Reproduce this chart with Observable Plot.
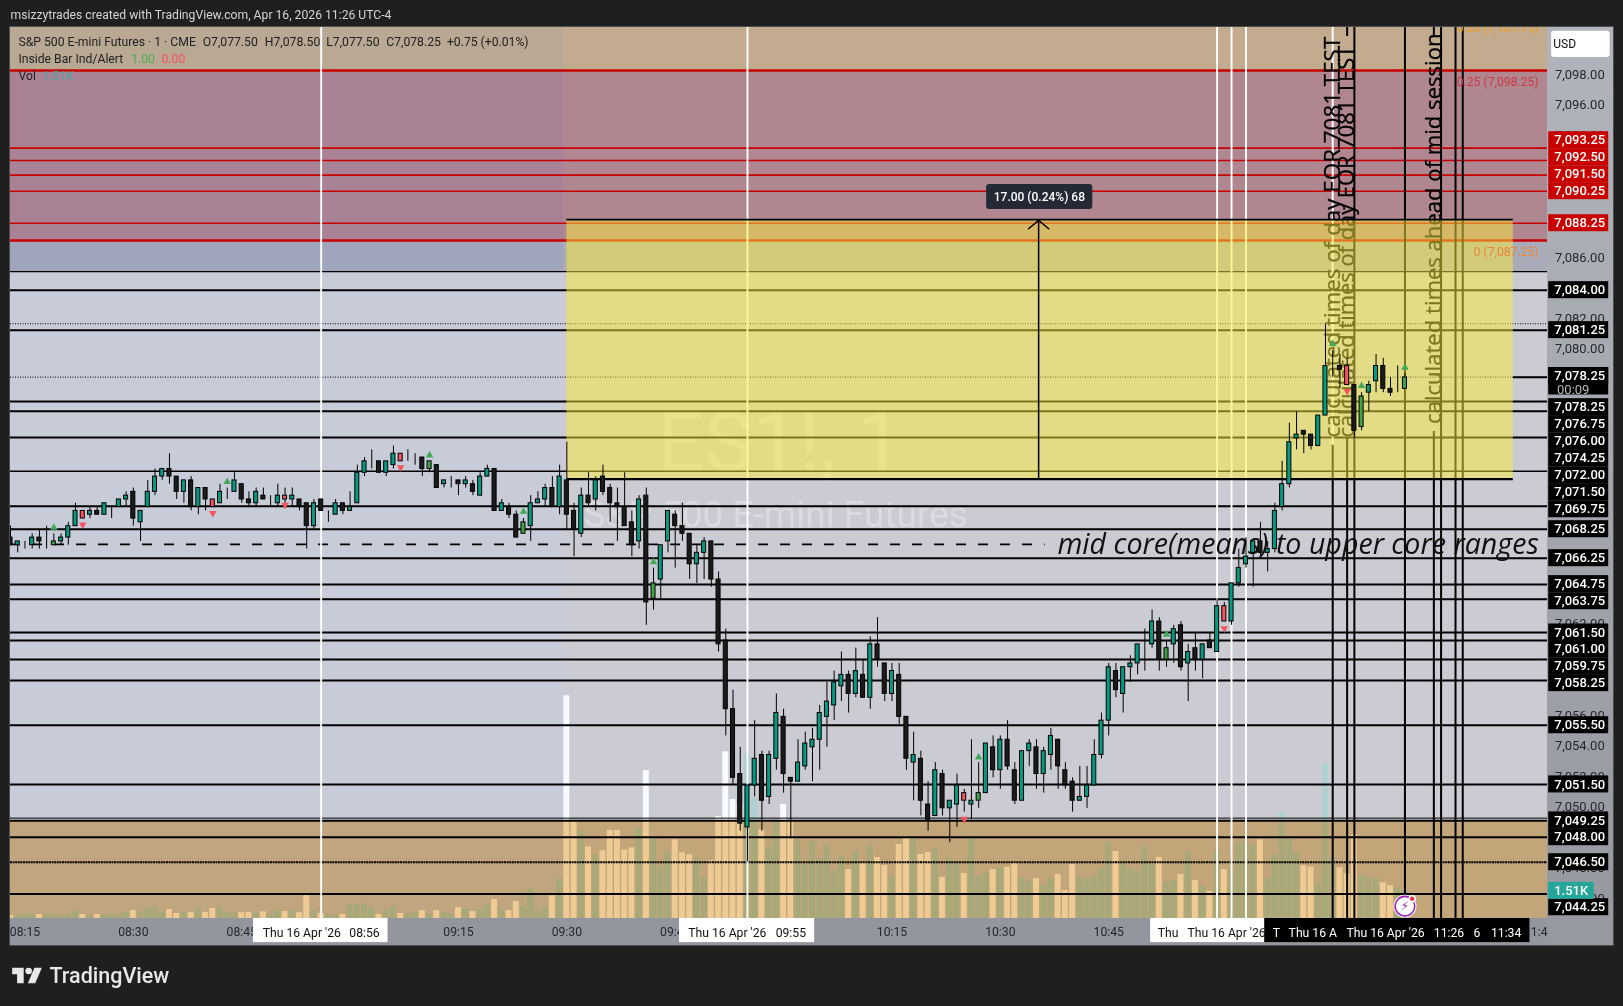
<!DOCTYPE html>
<html><head><meta charset="utf-8">
<script src="https://cdn.jsdelivr.net/npm/d3@7"></script>
<script src="https://cdn.jsdelivr.net/npm/@observablehq/plot@0.6"></script>
<style>
html,body{margin:0;padding:0;background:#1f1f1f;width:1623px;height:1006px;overflow:hidden}
#wrap{position:relative;width:1623px;height:1006px}
#ax{position:absolute;left:1547px;top:27px;width:66px;height:918px;background:linear-gradient(#b2b4bc,#95989f)}
#bt{position:absolute;left:10px;top:918px;width:1537px;height:27px;background:#93969f}
#fr{position:absolute;left:9px;top:26px;width:1603px;height:918px;border:1px solid #4c4c4c}
#logo{position:absolute;left:12px;top:966px}
#chart{position:absolute;left:0;top:0}
</style></head><body>
<div id="wrap"><div id="ax"></div><div id="bt"></div><div id="chart"></div><div id="fr"></div>
<svg id="logo" width="30" height="19" viewBox="0 0 36 23" fill="#e8e8e8"><path d="M14 2H0v8h6v11h8z"/><circle cx="20" cy="6" r="4"/><path d="M28 21h-9l8-19h9z"/></svg></div>
<script>
const firstMinute = -77; // minutes from 09:30
const opens = [7067.75,7067.25,7067.25,7067.25,7067.75,7067.25,7067.25,7067.5,7067.75,7068.5,7069.5,7069.25,7069.5,7069.25,7069.75,7069.75,7070.25,7070.75,7068.75,7069.75,7070.75,7071.75,7072.25,7071.75,7070.75,7071.5,7069.75,7071,7070.25,7070,7070.75,7070.75,7071.25,7070.25,7070,7070.5,7070,7070,7070.5,7070.25,7070.25,7070,7068.5,7070.25,7069.5,7069.25,7070,7069.5,7070,7072,7072.75,7072.75,7072,7072.5,7073.25,7073,7072.75,7073,7072.25,7072.5,7071.25,7071.5,7071.5,7071.25,7071.25,7070.5,7071.75,7072.25,7069.5,7069.75,7069.25,7068,7068.5,7070,7070.25,7071,7069.75,
7071.5,7069.5,7068,7070.5,7070.25,7071.75,7071,7070,7069.75,7068.75,7067.5,7070.5,7063.75,7065,7067.5,7069.25,7068.5,7068,7066,7066.75,7067.5,7065,7061,7056.5,7052.25,7048.75,7051.5,7053.5,7050.75,7053.25,7056,7052,7051.75,7052.75,7054,7054.5,7056,7056.75,7058,7058.75,7057.5,7058.75,7057.25,7060.75,7059.5,7057.5,7058.75,7056,7053,7053.25,7050.25,7049.5,7052.25,7050,7050.25,7051,7050.25,7050.5,7051,7054,7052.5,7054.5,7052.5,7050.5,7053.75,7054,7052.25,7053.5,7054.5,7052.5,7051.75,7050.5,7050.75,7051.5,7053.5,7055.75,7059,7057.5,7059.25,7059.5,7060.75,7060.75,7062.25,7059.75,7060.75,7062,7059.5,7060.5,7059.75,7061,7060.25,7063.25,7062.25,7064.75,7066,7066.75,7067.5,7066.75,7067,7069.75,7071.25,7074.25,7074.75,7074.5,7073.75,7075.75,7079,7079,7079,7077.75,7075,7077.25,7078,7079,7077.5,7077.5,7077.5];
const highs = [7068.5,7067.5,7067.5,7068,7068.25,7068.5,7068,7068,7068.75,7070,7069.5,7069.75,7069.75,7070,7069.75,7070.25,7070.75,7071,7069.5,7071.5,7072.25,7072.25,7073.25,7071.75,7071.5,7071.75,7071,7071,7070.25,7071.25,7071,7072,7071.25,7070.75,7071,7071,7070.5,7071.25,7071,7071,7070.25,7070,7070.25,7070.25,7069.5,7070.25,7070,7070.75,7072.5,7073,7073.5,7072.75,7072.75,7073.75,7073.25,7073.5,7073.25,7073,7072.75,7072.5,7071.5,7071.75,7071.5,7071.75,7071.5,7072,7072.5,7072.25,7070.25,7070,7069.5,7069,7070.5,7070.75,7071.25,7071.75,7072.5,
7074,7070,7071,7072,7071.75,7072.5,7071.25,7071,7072,7069.5,7070.5,7071,7065.75,7067.25,7069.5,7069.5,7070,7068,7067.25,7067.75,7067.5,7065.5,7061.75,7057.75,7054,7051.5,7055.75,7053.75,7053.75,7057.5,7056.5,7052,7054.5,7055,7055.25,7056.75,7058.25,7059,7060.25,7059,7060.5,7059.75,7061.25,7062.5,7059.5,7059.5,7059.5,7056,7055,7053.75,7051.75,7053,7052.5,7050.5,7052.25,7051.25,7054.5,7053,7054.25,7054.75,7054.75,7055.75,7053,7053.75,7054.5,7054.5,7054,7055.25,7054.5,7053,7052,7052.75,7052.75,7054.5,7056.25,7059.5,7059.5,7059.25,7060,7060.75,7061.75,7063,7062.5,7061,7062,7062.25,7060.75,7061.5,7060.75,7061.5,7063.75,7063.5,7064.75,7067,7067.75,7067.5,7068.75,7067.5,7070,7072.75,7075.25,7076,7074.75,7074.5,7075.75,7081.75,7080,7079.75,7079.5,7077.75,7077.25,7078,7079.75,7079.5,7078.25,7079,7078.5];
const lows = [7067.25,7066.75,7067,7067,7067,7067,7067.25,7067.25,7067.25,7068.5,7069,7069,7069.25,7069.25,7069,7069.75,7069.75,7068.5,7067.5,7069.75,7070.5,7071.5,7071.25,7070.25,7070,7069.5,7069.25,7069.5,7069.75,7070,7070.25,7070.75,7070,7069.75,7069.75,7070.25,7069.75,7069.75,7069.75,7069.75,7069.5,7067,7068.25,7069.5,7068.75,7069.25,7069.25,7069.5,7070,7071.75,7072.25,7072,7071.75,7072.25,7072.75,7072.75,7072.5,7071.75,7072,7071,7071,7071,7070.5,7071,7070.5,7070.5,7071.75,7069.5,7069.5,7069,7067.75,7068,7067.5,7070,7069.75,7069.75,7069.25,
7068.25,7066.5,7067.75,7069.75,7069.5,7070.5,7068.75,7067.5,7068.5,7066.5,7067,7062,7063,7063.75,7066.75,7065.75,7067.5,7065,7064.75,7065,7064.5,7060.25,7054.75,7051.5,7048.5,7046.5,7050.75,7048.5,7050.25,7052.5,7051,7048,7051.75,7052.5,7051.75,7052.5,7054,7055.75,7057,7056.25,7057.25,7057.25,7056.5,7059.25,7057,7057,7055.5,7052.5,7050.5,7049.5,7048.5,7049.5,7049.5,7047.75,7048.75,7049.75,7049.25,7050,7051,7052,7051.25,7052.5,7050.25,7050.5,7052.75,7051.25,7051,7052.5,7051.25,7051.25,7049.75,7050.5,7050,7051.5,7053.25,7054.75,7057.25,7056.25,7058.25,7058.75,7059,7060.5,7059,7059.25,7059.5,7059,7057,7059,7058.5,7060.5,7060.25,7062.25,7062,7064.5,7065.75,7064.5,7066.5,7065.5,7066.75,7069.5,7071,7073.5,7073.25,7073.5,7073.75,7075.75,7078.25,7077.5,7077.75,7074.25,7074.75,7076,7077.25,7077.25,7077,7077.25,7077.5];
const closes = [7067.25,7067.5,7067.25,7067.75,7067.5,7067.25,7067.5,7067.75,7068.5,7069.5,7069,7069.5,7069.25,7070,7069.75,7070.25,7070.5,7069,7069.5,7070.75,7071.75,7072.25,7071.75,7070.75,7071.5,7069.75,7071,7070.25,7069.75,7070.75,7070.75,7071.5,7070.25,7070,7070.75,7070.25,7070,7070.5,7070.25,7070.5,7069.75,7068.5,7070,7069.5,7069.5,7070,7069.5,7069.75,7072,7072.75,7072.75,7072,7072.75,7073.25,7072.75,7073,7072.75,7072.25,7072.75,7071,7071.5,7071.5,7071.25,7071.5,7070.75,7071.75,7072.25,7069.5,7070,7069.25,7067.75,7068.75,7070,7070.25,7071,7069.75,7071.75,
7069.25,7068.25,7070.5,7070,7071.5,7070.75,7070,7069.75,7068.5,7067.25,7070.25,7063.5,7064.75,7067.25,7069.5,7068.5,7068,7066,7066.75,7067.5,7065,7060.75,7056.5,7052,7049,7051.5,7053.25,7050.5,7053.5,7056.25,7052.25,7051.75,7053,7054.25,7054.5,7056.25,7057,7058.25,7058.75,7057.5,7059,7057.25,7060.75,7059.75,7057.5,7059,7056,7053.25,7053.5,7050.5,7049.25,7052.5,7050,7050.5,7051.5,7050.5,7050.5,7051,7054.25,7052.5,7054.5,7052.75,7050.5,7053.75,7054.25,7052.25,7053.75,7054.75,7052.75,7051.5,7050.5,7050.75,7051.5,7053.5,7055.75,7059.25,7057.75,7059.25,7059.5,7060.75,7060.75,7062.25,7059.75,7060.5,7061.75,7059.25,7060.25,7059.75,7060.75,7060.5,7063.25,7062.25,7064.75,7065.75,7066.5,7067.5,7066.75,7067,7069.5,7071.25,7074,7074.5,7074.5,7073.75,7075.75,7079,7079,7078.75,7077.75,7074.75,7077,7077.75,7079,7077.5,7077.25,7077.5,7078.25];
const volumesK = [.16,.18,.2,.25,.22,.25,.25,.16,.25,.42,.22,.18,.22,.2,.25,.22,.32,.43,.36,.54,.63,.32,.49,.27,.36,.32,.54,.32,.54,.59,.32,.32,.32,.32,.32,.36,.2,.42,.38,.47,.32,1.24,.42,.27,.2,.2,.22,.76,.76,.79,.59,.22,.43,.65,.27,.25,.32,.43,.25,.43,.32,.25,.59,.54,.38,.47,.76,1.03,.47,.43,.92,.65,1.62,.42,.63,1.23,2.11,
12.04,5.24,4.76,3.88,3.44,3.66,4.76,4.76,3.71,3.82,4.88,8,4.32,2.81,3.58,4.25,3.55,3.44,3.28,2.2,3.12,5.51,9.01,6.43,6.16,8.92,6.52,4.79,3.84,5.23,6.16,5.24,4.27,2.9,4.15,3.23,3.95,2.59,3.39,2.65,3.61,3.01,3.89,3.3,2.86,2.27,4,4.32,4.32,3.46,3.57,3.78,2.22,3.24,3.1,2.43,4.32,2.32,2.49,2.65,2.7,2.76,2.97,2.16,2,2.16,1.78,2.16,2.38,1.51,2.92,2.27,2.16,2.32,2.7,4.11,3.62,2.96,2.7,2.54,3.89,2.92,3.3,1.95,2.05,2.38,3.62,2.05,1.73,1.46,3.68,2.65,2.59,4.11,4.16,4,4.25,2.15,3.44,5.77,4.31,3.55,2.85,2.79,1.85,8.36,3.3,2.74,2.42,4.52,2.29,2.2,2.15,1.93,1.77,1.66,1.51];
const insideRed = [-67,-49,-39,-23,55,91,108];
const insideGreen = [-71,-19,-6,12,57,83,110,116];
const signalUpT = [-71,-47,-19,-6,12,57,83,106,110,116];
const signalUpP = [7068.4,7071.4,7073.15,7069.45,7066.15,7053.35,7061.4,7080.45,7077.7,7078.9];
const signalDownT = [-67,-49,-39,-23,55,91,108];
const signalDownP = [7068.6,7069.35,7069.9,7072.35,7049.3,7061.8,7077.35];

const redLevels = [7098.37,7093.28,7092.47,7091.51,7090.46,7088.36,7087.23];
const redWidths = [2.4,1.6,1.6,1.6,1.6,1.6,2.6];
const blackLevels = [7085.18,7083.97,7081.35,7076.67,7076.04,7074.31,7072.1,7069.81,7068.3,7066.4,7064.68,7063.71,7061.53,7061.01,7059.76,7058.38,7055.45,7051.57,7049.36,7049.19,7048.11,7044.38];
const blackWidths = [1.2,2,2,2,2,2,1.6,2,2,2,2,2,2,2,2,2,2,2,1,2,2,2];
const dottedLevels = [7081.77,7078.27];
const denseDottedLevel = 7046.47;
const midCoreLevel = 7067.3;
const boxTop = 7088.6, boxBottom = 7071.58, boxStart = 0, boxEnd = 131;
const whiteTimes = [-34,25,90,92,94];
const blackTimes = [109,116,121,123,124];
const labelledTimes = [106,108,120];
const labelledBreakLow = [7073.8,7074.3,7074.7];
const rotatedTexts = ["calculated times of day EOR 7081 TEST","calculated times of day EOR 7081 TEST","calculated times ahead of mid session"];
const rotatedBase = [7074.31,7074.31,7075.2];
const rotatedSizes = [22.4,21.9,22.1];

const tMin=-77,tMax=135.73,pMin=7042.78,pMax=7101.19;
const volPricePerK=1.2127;
const F="Roboto, 'Liberation Sans', sans-serif";
const bars=opens.map((o,i)=>{const t=firstMinute+i;const c=closes[i];
 const fill=insideRed.includes(t)?"#f7525f":insideGreen.includes(t)?"#43a047":c>o?"#089981":c<o?"#1b1b1b":"#089981";
 return {t,o,h:highs[i],l:lows[i],c,v:volumesK[i],fill,down:c<o};});

const bands=[
 {a:tMin,b:-.4,p1:7098.37,p2:pMax,f:"#b9a994"},{a:-.4,b:tMax,p1:7098.37,p2:pMax,f:"#c3ab90"},
 {a:tMin,b:-.4,p1:7087.23,p2:7098.37,f:"#a98295"},{a:-.4,b:tMax,p1:7087.23,p2:7098.37,f:"#b08791"},
 {a:tMin,b:-.4,p1:7085.18,p2:7087.23,f:"#a0a5bc"},{a:-.4,b:tMax,p1:7085.18,p2:7087.23,f:"#a9abb9"},
 {a:tMin,b:-.4,p1:pMin,p2:7085.18,f:"#c8ccd9"},{a:-.4,b:tMax,p1:pMin,p2:7085.18,f:"#cbccd3"}];

const axisTicks=[7098,7096,7094,7086,7082,7080,7062,7056,7054,7052,7050,7046,7044];
const redBoxes=[["7,093.25",7093.8],["7,092.50",7092.69],["7,091.50",7091.57],["7,090.25",7090.46],["7,088.25",7088.36]];
const blackBoxes=[["7,084.00",7083.97],["7,081.25",7081.35],["7,078.25",7078.33],["7,078.25",7076.3],["7,076.75",7075.19],["7,076.00",7074.07],["7,074.25",7072.96],["7,072.00",7071.84],["7,071.50",7070.73],["7,069.75",7069.61],["7,068.25",7068.3],["7,066.25",7066.4],["7,064.75",7064.7],["7,063.75",7063.58],["7,061.50",7061.53],["7,061.00",7060.44],["7,059.75",7059.32],["7,058.25",7058.21],["7,055.50",7055.45],["7,051.50",7051.57],["7,049.25",7049.21],["7,048.00",7048.11],["7,046.50",7046.47],["7,044.25",7043.52]];
const timeTicks=[["08:15",-75],["08:30",-60],["08:45",-45],["09:15",-15],["09:30",0],["09:45",15],["10:15",45],["10:30",60],["10:45",75]];
const timeBoxes=[{a:-43.37,b:-24.75,f:"#fff"},{a:15.6,b:34.3,f:"#fff"},{a:80.8,b:96.6,f:"#fff"},{a:96.6,b:133.3,f:"#000"}];
const timeBoxText=[["Thu 16 Apr '26",-42.1,"#111"],["08:56",-30.1,"#111"],["Thu 16 Apr '26",16.8,"#111"],["09:55",28.9,"#111"],["Thu",81.8,"#111"],["Thu 16 Apr '26",85.9,"#111"],["T",97.7,"#fff"],["Thu 16 A",99.9,"#fff"],["Thu 16 Apr '26",107.9,"#fff"],["11:26",120,"#fff"],["6",125.5,"#fff"],["11:34",127.9,"#fff"]];
const legendTexts=[["S&P 500 E-mini Futures · 1 · CME",-75.9,7100.24,"#222"],["O7,077.50",-50.4,7100.24,"#222"],["H7,078.50",-41.8,7100.24,"#222"],["L7,077.50",-33.3,7100.24,"#222"],["C7,078.25",-25,7100.24,"#222"],["+0.75 (+0.01%)",-16.6,7100.24,"#222"],["Inside Bar Ind/Alert",-75.9,7099.09,"#222"],["1.00",-60.3,7099.09,"#4caf50"],["0.00",-56.1,7099.09,"#f7525f"],["Vol",-75.9,7097.98,"#222"],["1.51K",-72.6,7097.98,"#45a5a0"]];
const fibLabels=[["0.33 (7,101.75)",7101.12,"#e8a020"],["0.25 (7,098.25)",7097.6,"#cc3a44"],["0 (7,087.25)",7086.46,"#e8863c"]];
const arrowHead=[[63.9,7088],[65.3,7088.55],[66.7,7088]];
const labelT=140.2, boxL=135.9, boxR=144.2, boxHalf=.557;

const chart=Plot.plot({width:1623,height:1006,marginLeft:10,marginRight:76,marginTop:27,marginBottom:88,
 style:{background:"transparent",overflow:"visible"},
 x:{domain:[tMin,tMax],axis:null},y:{domain:[pMin,pMax],axis:null},
 marks:[
  Plot.rect(bands,{x1:"a",x2:"b",y1:"p1",y2:"p2",fill:d=>d.f,shapeRendering:"crispEdges"}),
  Plot.text(["ES1!, 1"],{x:12.55,y:7073.92,textAnchor:"start",fontSize:82,fontFamily:F,fill:"#fff",fillOpacity:.3}),
  Plot.text(["S&P 500 E-mini Futures"],{x:2.3,y:7069.2,textAnchor:"start",fontSize:37,fontFamily:F,fill:"#fff",fillOpacity:.3}),
  Plot.rect(bars,{x1:d=>d.t-.41,x2:d=>d.t+.41,y1:pMin,y2:d=>pMin+d.v*volPricePerK,fill:d=>d.down?"#f8fbff":"#aed0d0",clip:true}),
  Plot.rect([0],{x1:tMin,x2:tMax,y1:pMin,y2:7049.19,fill:"#f5cf94",mixBlendMode:"multiply"}),
  Plot.ruleY(blackLevels,{stroke:"#000",strokeWidth:(d,i)=>blackWidths[i]}),
  Plot.ruleY(redLevels,{stroke:"#c80000",strokeWidth:(d,i)=>redWidths[i]}),
  Plot.ruleY(dottedLevels,{stroke:"#000",strokeWidth:1,strokeDasharray:"1,1.5"}),
  Plot.ruleY([denseDottedLevel],{stroke:"#000",strokeWidth:2,strokeDasharray:"2,.6"}),
  Plot.ruleY([midCoreLevel],{x1:tMin,x2:66.2,stroke:"#000",strokeWidth:1.8,strokeDasharray:"10,12"}),
  Plot.ruleX(whiteTimes,{stroke:"#fff",strokeWidth:1.9}),
  Plot.ruleX([106],{y1:7073.8,y2:pMax,stroke:"#fff",strokeWidth:1.9}),
  Plot.ruleX(blackTimes,{stroke:"#000",strokeWidth:2}),
  Plot.ruleX(labelledTimes,{y1:pMin,y2:(d,i)=>labelledBreakLow[i],stroke:"#000",strokeWidth:2}),
  Plot.ruleX([108,120],{y1:7100.6,y2:pMax,stroke:"#000",strokeWidth:2}),
  Plot.text(rotatedTexts,{x:(d,i)=>labelledTimes[i],y:(d,i)=>rotatedBase[i],rotate:-90,textAnchor:"start",lineAnchor:"middle",fontSize:(d,i)=>rotatedSizes[i],fontFamily:"'Open Sans',sans-serif",fill:"#000",stroke:"#000",strokeWidth:.3,clip:true}),
  Plot.rect([0],{x1:boxStart,x2:boxEnd,y1:boxBottom,y2:boxTop,fill:"rgb(250,235,60)",fillOpacity:.5}),
  Plot.ruleY([boxTop],{x1:boxStart,x2:boxEnd,stroke:"#000",strokeWidth:1.8}),
  Plot.ruleY([boxBottom],{x1:boxStart,x2:boxEnd,stroke:"#000",strokeWidth:2.2}),
  Plot.ruleY([7078.27],{x1:boxEnd,x2:tMax,stroke:"#000",strokeWidth:2}),
  Plot.text(["mid core(means) to upper core ranges"],{x:67.9,y:midCoreLevel,textAnchor:"start",fontSize:28.6,fontStyle:"italic",fontFamily:"'Open Sans',sans-serif",fill:"#111"}),
  Plot.ruleX(bars,{x:"t",y1:"l",y2:"h",stroke:"#000",strokeWidth:1,clip:true}),
  Plot.rect(bars,{x1:d=>d.t-.28,x2:d=>d.t+.28,y1:d=>Math.min(d.o,d.c),y2:d=>Math.max(d.o,d.c),fill:"fill",stroke:"#000",strokeWidth:1,clip:true}),
  Plot.dot(signalUpT,{x:d=>d,y:(d,i)=>signalUpP[i],symbol:"triangle",r:2.8,fill:"#43a95a"}),
  Plot.dot(signalDownT,{x:d=>d,y:(d,i)=>signalDownP[i],symbol:"triangle",r:2.8,rotate:180,fill:"#f7525f"}),
  Plot.ruleX([65.3],{y1:boxBottom,y2:7088.55,stroke:"#000",strokeWidth:1.5}),
  Plot.line(arrowHead,{x:d=>d[0],y:d=>d[1],stroke:"#000",strokeWidth:1.5}),
  Plot.rect([0],{x1:58.1,x2:72.8,y1:7089.26,y2:7090.9,fill:"#232a36",rx:3}),
  Plot.text(["17.00 (0.24%) 68"],{x:65.4,y:7090.08,fontSize:12,fontWeight:500,fontFamily:F,fill:"#fff"}),
  Plot.text(fibLabels,{x:134.5,y:d=>d[1],text:d=>d[0],textAnchor:"end",fontSize:12.2,fontFamily:F,fill:d=>d[2],clip:true}),
  Plot.text(legendTexts,{x:d=>d[1],y:d=>d[2],text:d=>d[0],textAnchor:"start",fontSize:12.2,fontFamily:F,fill:d=>d[3]}),
  Plot.dot([0],{x:116,y:7043.59,r:11.5,fill:"#fff"}),
  Plot.dot([0],{x:116,y:7043.59,r:9.8,fill:"#fff",stroke:"#9c27b0",strokeWidth:1.6}),
  Plot.text(["⚡"],{x:116,y:7043.59,fontSize:12,fontFamily:"'DejaVu Sans'",fill:"#9c27b0"}),
  Plot.dot([0],{x:117,y:7044.07,r:3,fill:"#f23645",stroke:"#fff"}),
  // price scale
  Plot.text(axisTicks,{x:labelT,y:d=>d,text:d=>d3.format(",.2f")(d),dy:-1.5,fontSize:13,fontFamily:F,fill:"#26282e"}),
  Plot.rect([0],{x1:136.3,x2:144.4,y1:7099.22,y2:7100.95,fill:"#fff",rx:3}),
  Plot.text(["USD"],{x:138.1,y:7100.08,fontSize:12,fontFamily:F,fill:"#111"}),
  Plot.rect(redBoxes,{x1:boxL,x2:boxR,y1:d=>d[1]-boxHalf,y2:d=>d[1]+boxHalf,fill:"#c80000"}),
  Plot.text(redBoxes,{x:labelT,y:d=>d[1],text:d=>d[0],fontSize:13,fontWeight:500,fontFamily:F,fill:"#fff"}),
  Plot.rect(blackBoxes,{x1:boxL,x2:boxR,y1:d=>d[1]-boxHalf,y2:d=>d[1]+boxHalf,fill:"#000"}),
  Plot.rect([0],{x1:boxL,x2:boxR,y1:7077.1,y2:7078.9,fill:"#000"}),
  Plot.text(blackBoxes,{x:labelT,y:d=>d[1],text:d=>d[0],fontSize:13,fontWeight:500,fontFamily:F,fill:"#fff"}),
  Plot.text(["00:09"],{x:137.05,y:7077.41,textAnchor:"start",fontSize:13,fontFamily:F,fill:"#b8b8b8"}),
  Plot.rect([0],{x1:boxL,x2:142.2,y1:7044.03,y2:7045.15,fill:"#26a69a"}),
  Plot.text(["1.51K"],{x:139,y:7044.59,fontSize:13,fontWeight:500,fontFamily:F,fill:"#fff"}),
  // time scale
  Plot.text(timeTicks,{x:d=>d[1],y:7041.87,text:d=>d[0],fontSize:12.2,fontFamily:F,fill:"#26282e"}),
  Plot.text(["11:4"],{x:tMax,y:7041.87,textAnchor:"end",fontSize:12.2,fontFamily:F,fill:"#26282e"}),
  Plot.rect(timeBoxes,{x1:"a",x2:"b",y1:7041.2,y2:pMin,fill:d=>d.f}),
  Plot.text(timeBoxText,{x:d=>d[1],y:7041.8,text:d=>d[0],textAnchor:"start",fontSize:12.2,fontFamily:F,fill:d=>d[2]}),
  // header / footer
  Plot.text(["msizzytrades created with TradingView.com, Apr 16, 2026 11:26 UTC-4"],{x:tMin,y:7101.98,textAnchor:"start",fontSize:12.18,fontFamily:F,fill:"#d4d4d4"}),
  Plot.text(["TradingView"],{x:-71.6,y:7038.98,textAnchor:"start",fontSize:21.5,fontWeight:500,fontFamily:F,fill:"#e8e8e8"})
 ]});
document.getElementById("chart").appendChild(chart);
</script></body></html>
